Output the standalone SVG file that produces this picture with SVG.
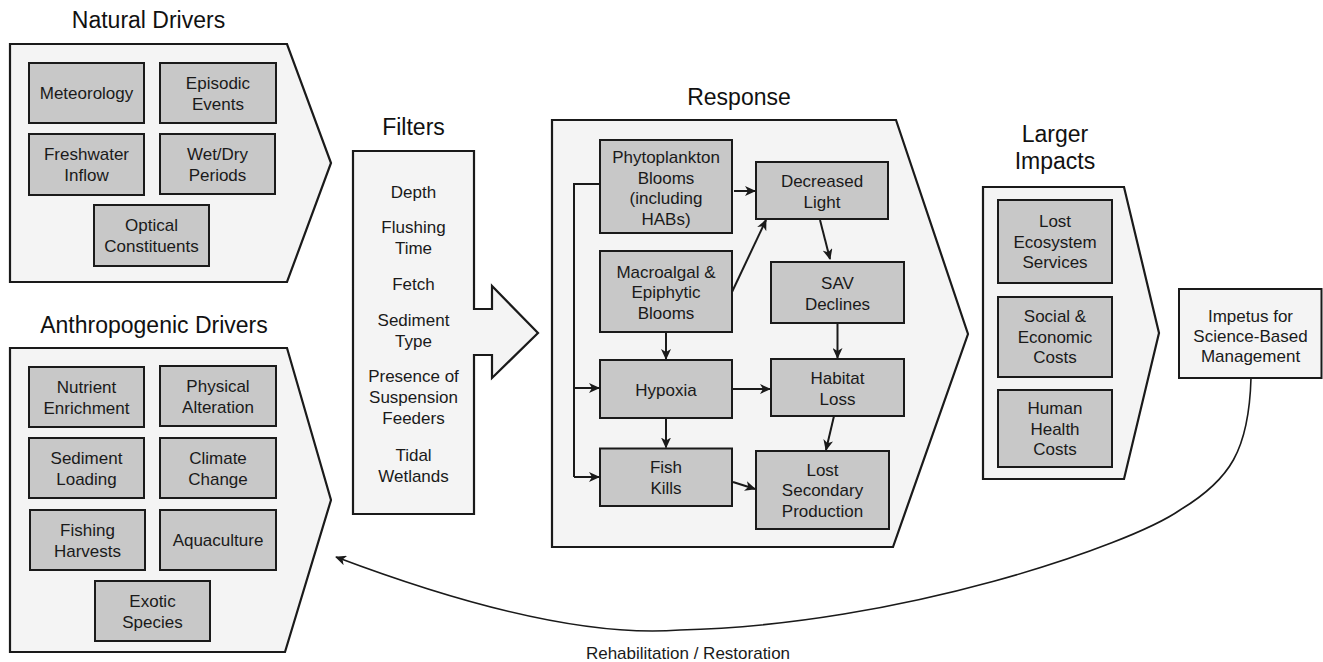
<svg xmlns="http://www.w3.org/2000/svg" width="1323" height="662" viewBox="0 0 1323 662">
<defs>
<style>
.title{font-family:"Liberation Sans",Arial,sans-serif;font-size:23px;fill:#111;text-anchor:middle}
.t{font-family:"Liberation Sans",Arial,sans-serif;font-size:17px;fill:#1a1a1a;text-anchor:middle}
.panel{fill:#f4f4f4;stroke:#1a1a1a;stroke-width:2.2;stroke-linejoin:miter}
.box{fill:#c8c8c8;stroke:#1a1a1a;stroke-width:2}
.con{fill:none;stroke:#1a1a1a;stroke-width:2}
.curve{fill:none;stroke:#1a1a1a;stroke-width:1.6}
</style>
<marker id="ah" markerUnits="userSpaceOnUse" markerWidth="12" markerHeight="10" refX="10" refY="5" orient="auto">
<path d="M0,0 L11,5 L0,10 L3,5 Z" fill="#1a1a1a"/>
</marker>
</defs>

<g id="natural-drivers">
<text class="title" x="148.5" y="28">Natural Drivers</text>
<path class="panel" d="M10,44 H287 L331,163 L287,282 H10 Z"/>
<g id="meteorology"><rect class="box" x="29" y="63" width="115" height="60"/><text class="t" x="86.5" y="99">Meteorology</text></g>
<g id="episodic-events"><rect class="box" x="160" y="63" width="116" height="60"/><text class="t" x="218" y="89">Episodic</text><text class="t" x="218" y="110">Events</text></g>
<g id="freshwater-inflow"><rect class="box" x="29" y="134" width="115" height="61"/><text class="t" x="86.5" y="160">Freshwater</text><text class="t" x="86.5" y="181">Inflow</text></g>
<g id="wet-dry-periods"><rect class="box" x="160" y="134" width="115" height="60"/><text class="t" x="217.5" y="160">Wet/Dry</text><text class="t" x="217.5" y="181">Periods</text></g>
<g id="optical-constituents"><rect class="box" x="94" y="205" width="115" height="61"/><text class="t" x="151.5" y="231">Optical</text><text class="t" x="151.5" y="252">Constituents</text></g>
</g>

<g id="anthropogenic-drivers">
<text class="title" x="154" y="333">Anthropogenic Drivers</text>
<path class="panel" d="M10,348 H287 L331,500 L285,652 H10 Z"/>
<g id="nutrient-enrichment"><rect class="box" x="29" y="367" width="115" height="60"/><text class="t" x="86.5" y="392.5">Nutrient</text><text class="t" x="86.5" y="413.5">Enrichment</text></g>
<g id="physical-alteration"><rect class="box" x="160" y="366" width="116" height="60"/><text class="t" x="218" y="391.5">Physical</text><text class="t" x="218" y="412.5">Alteration</text></g>
<g id="sediment-loading"><rect class="box" x="29" y="438" width="115" height="60"/><text class="t" x="86.5" y="463.5">Sediment</text><text class="t" x="86.5" y="484.5">Loading</text></g>
<g id="climate-change"><rect class="box" x="160" y="438" width="116" height="60"/><text class="t" x="218" y="463.5">Climate</text><text class="t" x="218" y="484.5">Change</text></g>
<g id="fishing-harvests"><rect class="box" x="30" y="510" width="115" height="60"/><text class="t" x="87.5" y="535.5">Fishing</text><text class="t" x="87.5" y="556.5">Harvests</text></g>
<g id="aquaculture"><rect class="box" x="160" y="510" width="116" height="60"/><text class="t" x="218" y="546">Aquaculture</text></g>
<g id="exotic-species"><rect class="box" x="95" y="581" width="115" height="60"/><text class="t" x="152.5" y="606.5">Exotic</text><text class="t" x="152.5" y="627.5">Species</text></g>
</g>

<g id="filters">
<text class="title" x="413.5" y="135">Filters</text>
<path class="panel" d="M353,151 H474 V309 H492 V286 L538,333 L492,378 V355 H474 V514 H353 Z"/>
<text class="t" x="413.5" y="198">Depth</text>
<text class="t" x="413.5" y="233">Flushing</text>
<text class="t" x="413.5" y="254">Time</text>
<text class="t" x="413.5" y="290">Fetch</text>
<text class="t" x="413.5" y="326">Sediment</text>
<text class="t" x="413.5" y="347">Type</text>
<text class="t" x="413.5" y="382">Presence of</text>
<text class="t" x="413.5" y="403">Suspension</text>
<text class="t" x="413.5" y="424">Feeders</text>
<text class="t" x="413.5" y="461">Tidal</text>
<text class="t" x="413.5" y="482">Wetlands</text>
</g>

<g id="response">
<text class="title" x="739" y="105">Response</text>
<path class="panel" d="M552,120 H896 L968,334 L893,547 H552 Z"/>
<g id="phytoplankton"><rect class="box" x="600" y="140" width="132" height="93"/><text class="t" x="666" y="163">Phytoplankton</text><text class="t" x="666" y="183.5">Blooms</text><text class="t" x="666" y="204">(including</text><text class="t" x="666" y="224.5">HABs)</text></g>
<g id="decreased-light"><rect class="box" x="756" y="162" width="132" height="57"/><text class="t" x="822" y="187">Decreased</text><text class="t" x="822" y="208">Light</text></g>
<g id="macroalgal"><rect class="box" x="600" y="251" width="132" height="81"/><text class="t" x="666" y="277.5">Macroalgal &amp;</text><text class="t" x="666" y="298">Epiphytic</text><text class="t" x="666" y="318.5">Blooms</text></g>
<g id="sav-declines"><rect class="box" x="771" y="262" width="133" height="61"/><text class="t" x="837.5" y="288.5">SAV</text><text class="t" x="837.5" y="309.5">Declines</text></g>
<g id="hypoxia"><rect class="box" x="600" y="360" width="132" height="58"/><text class="t" x="666" y="395.5">Hypoxia</text></g>
<g id="habitat-loss"><rect class="box" x="771" y="359" width="133" height="57"/><text class="t" x="837.5" y="384">Habitat</text><text class="t" x="837.5" y="405">Loss</text></g>
<g id="fish-kills"><rect class="box" x="600" y="448.5" width="132" height="57.5"/><text class="t" x="666" y="473">Fish</text><text class="t" x="666" y="494">Kills</text></g>
<g id="lost-secondary"><rect class="box" x="756" y="451" width="133" height="78"/><text class="t" x="822.5" y="475.5">Lost</text><text class="t" x="822.5" y="496">Secondary</text><text class="t" x="822.5" y="516.5">Production</text></g>
</g>

<g id="larger-impacts">
<text class="title" x="1055" y="142">Larger</text>
<text class="title" x="1055" y="169">Impacts</text>
<path class="panel" d="M983,187 H1124 L1159,333 L1124,479 H983 Z"/>
<g id="lost-ecosystem"><rect class="box" x="998" y="200" width="114" height="83"/><text class="t" x="1055" y="227">Lost</text><text class="t" x="1055" y="247.5">Ecosystem</text><text class="t" x="1055" y="268">Services</text></g>
<g id="social-economic"><rect class="box" x="998" y="297" width="114" height="80"/><text class="t" x="1055" y="322">Social &amp;</text><text class="t" x="1055" y="342.5">Economic</text><text class="t" x="1055" y="363">Costs</text></g>
<g id="human-health"><rect class="box" x="998" y="390" width="114" height="77"/><text class="t" x="1055" y="414">Human</text><text class="t" x="1055" y="434.5">Health</text><text class="t" x="1055" y="455">Costs</text></g>
</g>

<g id="impetus">
<rect x="1179" y="289" width="142.5" height="89" fill="#f4f4f4" stroke="#1a1a1a" stroke-width="2"/>
<text class="t" x="1250.5" y="321.5">Impetus for</text>
<text class="t" x="1250.5" y="341.5">Science-Based</text>
<text class="t" x="1250.5" y="361.5">Management</text>
</g>

<g id="connectors">
<path class="con" d="M600,184 H574 V477"/>
<path class="con" d="M574,388 H599" marker-end="url(#ah)"/>
<path class="con" d="M574,477 H599" marker-end="url(#ah)"/>
<path class="con" d="M734,191 H755" marker-end="url(#ah)"/>
<path class="con" d="M732,292 L766,220" marker-end="url(#ah)"/>
<path class="con" d="M820,220 L830,259" marker-end="url(#ah)"/>
<path class="con" d="M666,332 V359" marker-end="url(#ah)"/>
<path class="con" d="M837.5,323 V358" marker-end="url(#ah)"/>
<path class="con" d="M732,389 H770" marker-end="url(#ah)"/>
<path class="con" d="M666,418 V447.5" marker-end="url(#ah)"/>
<path class="con" d="M834,416 L826,450" marker-end="url(#ah)"/>
<path class="con" d="M733,482 L755,489" marker-end="url(#ah)"/>
<path class="curve" d="M1251,378 C1249,450 1230,480 1180,510 C1130,545 900,625 680,630 C580,638 450,600 336,557" marker-end="url(#ah)"/>
<text class="t" x="688" y="659">Rehabilitation / Restoration</text>
</g>
</svg>
